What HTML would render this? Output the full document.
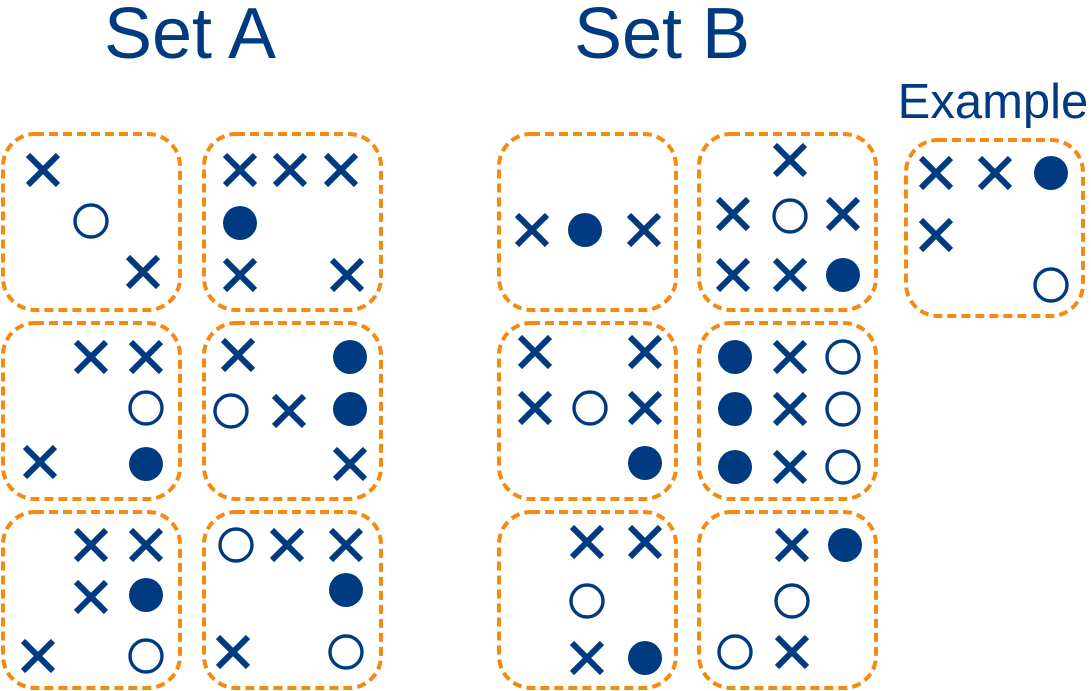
<!DOCTYPE html>
<html><head><style>html,body{margin:0;padding:0;background:#fff}svg{display:block}</style></head><body>
<svg width="1091" height="691" viewBox="0 0 1091 691" xmlns="http://www.w3.org/2000/svg">
<defs>
<g id="x"><path d="M-15,-15L15,15M15,-15L-15,15" stroke="#003a80" stroke-width="6" fill="none"/></g>
<g id="f"><circle r="17" fill="#003a80"/></g>
<g id="o"><circle r="16" fill="none" stroke="#003a80" stroke-width="3.4"/></g>
</defs>
<g font-family="Liberation Sans, Arial, sans-serif" fill="#003a80">
<text x="190" y="58" font-size="72" text-anchor="middle">Set A</text>
<text x="662" y="58" font-size="72" text-anchor="middle">Set B</text>
<text x="993" y="118" font-size="49" text-anchor="middle">Example</text>
</g>
<g fill="none" stroke="#f58a12" stroke-width="4" stroke-dasharray="9 5">
<rect x="3" y="134" width="177" height="176" rx="32"/>
<rect x="204" y="134" width="177" height="176" rx="32"/>
<rect x="3" y="323" width="177" height="176" rx="32"/>
<rect x="204" y="323" width="177" height="176" rx="32"/>
<rect x="3" y="512" width="177" height="176" rx="32"/>
<rect x="204" y="512" width="177" height="176" rx="32"/>
<rect x="499" y="134" width="177" height="176" rx="32"/>
<rect x="699" y="134" width="177" height="176" rx="32"/>
<rect x="499" y="323" width="177" height="176" rx="32"/>
<rect x="699" y="323" width="177" height="176" rx="32"/>
<rect x="499" y="512" width="177" height="176" rx="32"/>
<rect x="699" y="512" width="177" height="176" rx="32"/>
<rect x="906" y="140" width="177" height="176" rx="32"/>
</g>
<use href="#x" x="43" y="170"/><use href="#o" x="91" y="221"/><use href="#x" x="143" y="272"/>
<use href="#x" x="240" y="170"/><use href="#x" x="290" y="170"/><use href="#x" x="341" y="170"/><use href="#f" x="240" y="223"/><use href="#x" x="240" y="275"/><use href="#x" x="347" y="275"/>
<use href="#x" x="91" y="357"/><use href="#x" x="146" y="357"/><use href="#o" x="146" y="408"/><use href="#x" x="40" y="462"/><use href="#f" x="146" y="464"/>
<use href="#x" x="238" y="355"/><use href="#f" x="350" y="357"/><use href="#o" x="231" y="411"/><use href="#x" x="289" y="411"/><use href="#f" x="350" y="409"/><use href="#x" x="350" y="464"/>
<use href="#x" x="91" y="545"/><use href="#x" x="146" y="545"/><use href="#x" x="91" y="597"/><use href="#f" x="146" y="595"/><use href="#x" x="38" y="656"/><use href="#o" x="146" y="656"/>
<use href="#o" x="236" y="545"/><use href="#x" x="287" y="545"/><use href="#x" x="346" y="545"/><use href="#f" x="346" y="590"/><use href="#x" x="233" y="652"/><use href="#o" x="346" y="652"/>
<use href="#x" x="532" y="230"/><use href="#f" x="585" y="230"/><use href="#x" x="644" y="230"/>
<use href="#x" x="790" y="160"/><use href="#x" x="733" y="214"/><use href="#o" x="790" y="216"/><use href="#x" x="843" y="214"/><use href="#x" x="733" y="275"/><use href="#x" x="790" y="275"/><use href="#f" x="843" y="275"/>
<use href="#x" x="535" y="352"/><use href="#x" x="645" y="352"/><use href="#x" x="535" y="408"/><use href="#o" x="590" y="408"/><use href="#x" x="645" y="408"/><use href="#f" x="645" y="463"/>
<use href="#f" x="735" y="357"/><use href="#x" x="790" y="357"/><use href="#o" x="843" y="357"/><use href="#f" x="735" y="409"/><use href="#x" x="790" y="409"/><use href="#o" x="843" y="409"/><use href="#f" x="735" y="467"/><use href="#x" x="790" y="467"/><use href="#o" x="843" y="467"/>
<use href="#x" x="587" y="542"/><use href="#x" x="645" y="542"/><use href="#o" x="587" y="601"/><use href="#x" x="587" y="658"/><use href="#f" x="645" y="658"/>
<use href="#x" x="792" y="545"/><use href="#f" x="845" y="545"/><use href="#o" x="792" y="601"/><use href="#o" x="735" y="652"/><use href="#x" x="792" y="652"/>
<use href="#x" x="936" y="173"/><use href="#x" x="995" y="173"/><use href="#f" x="1051" y="173"/><use href="#x" x="936" y="235"/><use href="#o" x="1051" y="285"/>
</svg>
</body></html>
